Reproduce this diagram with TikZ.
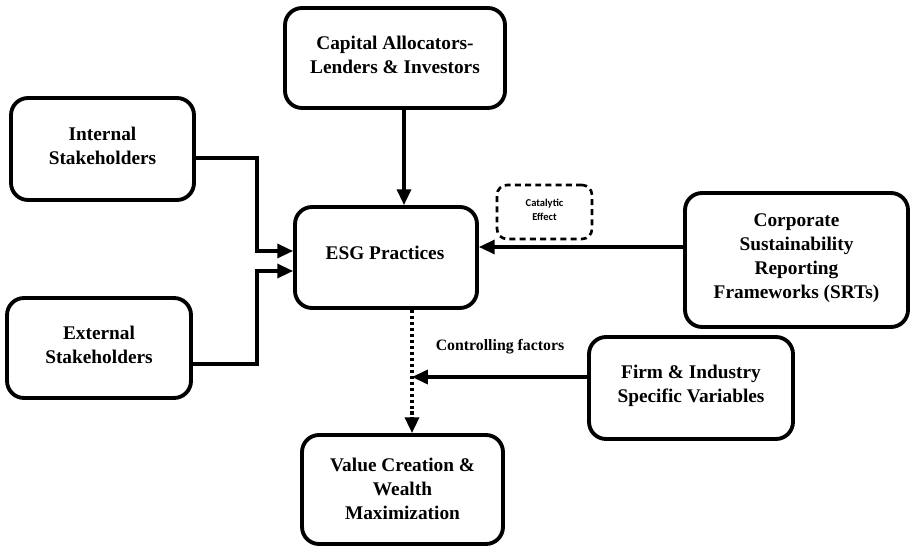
\documentclass[tikz,border=0pt]{standalone}
\usepackage{fontspec}
\setmainfont{Liberation Serif}
\newfontfamily\calfont{Carlito}
\usetikzlibrary{arrows.meta,calc}
\begin{document}
\begin{tikzpicture}[x=0.02cm,y=-0.02cm,
  box/.style={draw=black,line width=2.2pt,rounded corners=0.34cm,fill=white,inner sep=0pt},
  cbox/.style={draw=black,line width=1.5pt,dash pattern=on 3.4pt off 2.4pt,rounded corners=0.2cm,inner sep=0pt},
  txt/.style={align=center,font=\fontsize{11}{13.6}\selectfont\bfseries,inner sep=0pt},
  ctxt/.style={align=center,font=\calfont\fontsize{6}{8}\selectfont\bfseries,inner sep=0pt},
  lbl/.style={font=\fontsize{9}{11}\selectfont\bfseries,inner sep=0pt},
  arr/.style={line width=1.8pt,-{Triangle[length=9pt,width=8pt]}},
  dotl/.style={line width=1.9pt,dash pattern=on 1.8pt off 1.6pt,-{Triangle[length=9pt,width=8pt]}}
]
\useasboundingbox (0,0) rectangle (911,546);

% boxes
\node[box,minimum width=4.4cm,minimum height=2.0cm] (cap) at (395,58) {};
\node[box,minimum width=3.66cm,minimum height=2.04cm] (int) at (102.5,149) {};
\node[box,minimum width=3.68cm,minimum height=2.0cm] (ext) at (99,348) {};
\node[box,minimum width=3.64cm,minimum height=2.02cm] (esg) at (386,257.5) {};
\node[cbox,minimum width=1.9cm,minimum height=1.08cm] (cat) at (544.5,212) {};
\node[box,minimum width=4.46cm,minimum height=2.68cm] (srt) at (796.5,260) {};
\node[box,minimum width=4.08cm,minimum height=2.04cm] (firm) at (691,388) {};
\node[box,minimum width=4.02cm,minimum height=2.18cm] (val) at (402.5,489.5) {};

% texts
\node[txt] (capt) at (395,55) {Capital Allocators-\\Lenders \& Investors};
\node[txt] (intt) at (102.5,146) {Internal\\Stakeholders};
\node[txt] (extt) at (99,345) {External\\Stakeholders};
\node[txt] (esgt) at (385,253) {ESG Practices};
\node[ctxt] (catt) at (544.5,210) {Catalytic\\Effect};
\node[txt] (srtt) at (796.5,258) {Corporate\\Sustainability\\Reporting\\Frameworks (SRTs)};
\node[txt] (firmt) at (691,386) {Firm \& Industry\\Specific Variables};
\node[txt] (valt) at (402.5,489) {Value Creation \&\\Wealth\\Maximization};
\node[lbl] (ctrl) at (500,347) {Controlling factors};

% helper coordinates
\coordinate (cx) at (404,0);
\coordinate (dx) at (412,0);
\coordinate (i1) at (257,158);
\coordinate (i2) at (257,251);
\coordinate (e1) at (257,364);
\coordinate (e2) at (257,271);
\coordinate (sy) at (0,247);
\coordinate (fy) at (0,377);

% connectors
\draw[arr] (cap.south -| cx) -- (esg.north -| cx);
\draw[arr] (int.east |- i1) -- (i1) -- (i2) -- (esg.west |- i2);
\draw[arr] (ext.east |- e1) -- (e1) -- (e2) -- (esg.west |- e2);
\draw[arr] (srt.west |- sy) -- (esg.east |- sy);
\draw[dotl] (esg.south -| dx) -- (val.north -| dx);
\draw[arr] (firm.west |- fy) -- (dx |- fy);
\end{tikzpicture}
\end{document}
